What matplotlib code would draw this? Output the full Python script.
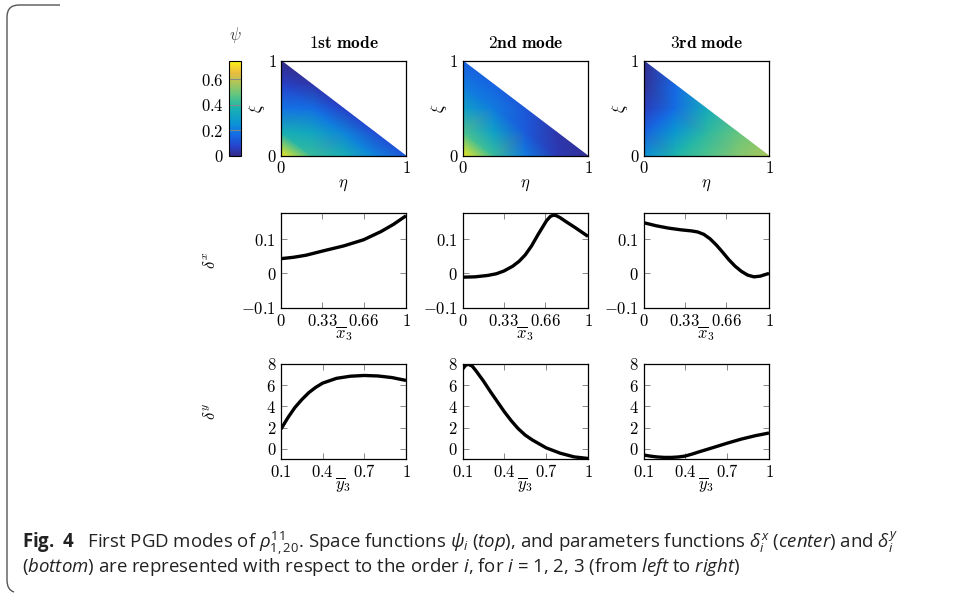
import numpy as np
import matplotlib
matplotlib.use("Agg")
import matplotlib.pyplot as plt
from matplotlib.colors import LinearSegmentedColormap
import matplotlib.tri as mtri
from matplotlib.path import Path
from matplotlib.patches import PathPatch

plt.rcParams['mathtext.fontset'] = 'cm'
plt.rcParams['font.family'] = ['DejaVu Serif']
plt.rcParams['mathtext.rm'] = 'Open Sans'
plt.rcParams['mathtext.it'] = 'Open Sans:italic'
plt.rcParams['mathtext.bf'] = 'Open Sans:bold'

# ---------------- data ----------------
mode_titles = ["1st mode", "2nd mode", "3rd mode"]

# psi values on triangular grid nodes (eta = i/4, xi = j/4), rows by xi
psi_mode1 = [[0.72, 0.42, 0.36, 0.22, 0.12],
             [0.36, 0.32, 0.22, 0.10],
             [0.18, 0.17, 0.07],
             [0.07, 0.04],
             [0.00]]
psi_mode2 = [[0.72, 0.42, 0.20, 0.05, 0.02],
             [0.45, 0.30, 0.13, 0.04],
             [0.30, 0.20, 0.12],
             [0.20, 0.15],
             [0.14]]
psi_mode3 = [[0.25, 0.38, 0.45, 0.52, 0.57],
             [0.14, 0.27, 0.40, 0.48],
             [0.06, 0.17, 0.34],
             [0.02, 0.16],
             [0.01]]
psi_modes = [psi_mode1, psi_mode2, psi_mode3]
psi_vmax = 0.745
cbar_ticks = [0, 0.2, 0.4, 0.6]

x3_1 = [0.0, 0.1, 0.2, 0.33, 0.5, 0.66, 0.8, 0.9, 1.0]
dx_1 = [0.043, 0.047, 0.053, 0.065, 0.080, 0.098, 0.122, 0.143, 0.168]
x3_2 = [0.0, 0.1, 0.2, 0.27, 0.33, 0.4, 0.45, 0.5, 0.55, 0.6, 0.64, 0.67,
        0.70, 0.725, 0.75, 0.78, 0.82, 0.9, 1.0]
dx_2 = [-0.011, -0.010, -0.006, -0.001, 0.007, 0.021, 0.035, 0.054, 0.080,
        0.112, 0.136, 0.154, 0.166, 0.170, 0.168, 0.162, 0.152, 0.133, 0.108]
x3_3 = [0.0, 0.1, 0.2, 0.3, 0.38, 0.43, 0.48, 0.53, 0.58, 0.63, 0.68, 0.73,
        0.78, 0.83, 0.88, 0.93, 1.0]
dx_3 = [0.148, 0.139, 0.132, 0.127, 0.124, 0.121, 0.114, 0.101, 0.083,
        0.062, 0.040, 0.021, 0.006, -0.005, -0.010, -0.008, 0.000]
delta_x = [(x3_1, dx_1), (x3_2, dx_2), (x3_3, dx_3)]
x_ticks = [0, 0.33, 0.66, 1]
x_ticklabels = ["$0$", "$0.33$", "$0.66$", "$1$"]
dx_ylim = (-0.1, 0.177)
dx_yticks = [-0.1, 0, 0.1]
dx_yticklabels = ["$-0.1$", "$0$", "$0.1$"]

y3_1 = [0.1, 0.15, 0.2, 0.25, 0.3, 0.35, 0.4, 0.5, 0.6, 0.7, 0.8, 0.9, 1.0]
dy_1 = [1.87, 2.95, 3.9, 4.65, 5.3, 5.8, 6.2, 6.65, 6.85, 6.92, 6.87, 6.72, 6.45]
y3_2 = [0.1, 0.12, 0.14, 0.17, 0.2, 0.25, 0.3, 0.35, 0.4, 0.45, 0.5, 0.55,
        0.6, 0.7, 0.8, 0.9, 1.0]
dy_2 = [7.5, 7.85, 7.98, 7.8, 7.3, 6.4, 5.4, 4.45, 3.5, 2.65, 1.9, 1.3,
        0.85, 0.1, -0.4, -0.75, -0.9]
y3_3 = [0.1, 0.15, 0.2, 0.25, 0.3, 0.35, 0.4, 0.45, 0.5, 0.6, 0.7, 0.8, 0.9, 1.0]
dy_3 = [-0.57, -0.68, -0.76, -0.80, -0.80, -0.76, -0.67, -0.48, -0.27,
        0.13, 0.54, 0.92, 1.24, 1.5]
delta_y = [(y3_1, dy_1), (y3_2, dy_2), (y3_3, dy_3)]
y_ticks = [0.1, 0.4, 0.7, 1]
y_ticklabels = ["$0.1$", "$0.4$", "$0.7$", "$1$"]
dy_ylim = (-0.95, 8)
dy_yticks = [0, 2, 4, 6, 8]
dy_yticklabels = ["$0$", "$2$", "$4$", "$6$", "$8$"]

# parula-like colormap
parula_stops = [(0.00, (0.2081, 0.1663, 0.5292)),
                (0.10, (0.1500, 0.2600, 0.8000)),
                (0.22, (0.0800, 0.4200, 0.9000)),
                (0.35, (0.0400, 0.5900, 0.8300)),
                (0.50, (0.1000, 0.7000, 0.6900)),
                (0.62, (0.3300, 0.7700, 0.5300)),
                (0.75, (0.6400, 0.7800, 0.3700)),
                (0.87, (0.9100, 0.7400, 0.2500)),
                (0.94, (0.9700, 0.8500, 0.1600)),
                (1.00, (0.9763, 0.9831, 0.0538))]
parula = LinearSegmentedColormap.from_list("parula", parula_stops)

# ---------------- figure ----------------
W, H = 955, 597
fig = plt.figure(figsize=(W / 100, H / 100), dpi=100)

def px_axes(x0, y0, x1, y1):
    return fig.add_axes([x0 / W, 1 - y1 / H, (x1 - x0) / W, (y1 - y0) / H])

cols = [(281, 406), (462.5, 588), (643.5, 769)]
row_y = [(60.7, 156), (212.7, 307.7), (364, 459)]
FS = 12
tick_kw = dict(direction='in', top=True, right=True, length=4, width=0.7,
               color='#888888', labelsize=FS, labelcolor='black')

# triangulation nodes
N = 4
eta_nodes, xi_nodes = [], []
for j in range(N + 1):
    for i in range(N + 1 - j):
        eta_nodes.append(i / N)
        xi_nodes.append(j / N)
tri = mtri.Triangulation(eta_nodes, xi_nodes)

for c, (x0, x1) in enumerate(cols):
    # heatmap
    ax = px_axes(x0, row_y[0][0], x1, row_y[0][1])
    vals = [v for row in psi_modes[c] for v in row]
    ax.tripcolor(tri, vals, shading='gouraud', cmap=parula, vmin=0, vmax=psi_vmax)
    ax.set_xlim(0, 1)
    ax.set_ylim(0, 1)
    ax.set_xticks([0, 1])
    ax.set_yticks([0, 1])
    ax.set_xticklabels(["$0$", "$1$"])
    ax.set_yticklabels(["$0$", "$1$"])
    ax.tick_params(length=0, labelsize=FS, pad=3)
    ax.set_xlabel(r"$\eta$", fontsize=FS, labelpad=-1)
    ax.set_ylabel(r"$\xi$", fontsize=FS, labelpad=0)
    ax.set_title(r"$\mathbf{%s}$" % mode_titles[c].replace(" ", r"\ "),
                 fontsize=12.5, pad=9)
    for s in ax.spines.values():
        s.set_linewidth(0.9)

    # delta x
    ax = px_axes(x0, row_y[1][0], x1, row_y[1][1])
    xs, ys = delta_x[c]
    ax.plot(xs, ys, color='black', lw=2.4, solid_capstyle='butt',
            solid_joinstyle='round')
    ax.set_xlim(0, 1)
    ax.set_ylim(*dx_ylim)
    ax.set_xticks(x_ticks)
    ax.set_xticklabels(x_ticklabels)
    ax.set_yticks(dx_yticks)
    ax.set_yticklabels(dx_yticklabels)
    ax.tick_params(**tick_kw)
    ax.set_xlabel(r"$\overline{x}_3$", fontsize=FS)
    ax.xaxis.set_label_coords(0.5, -0.17)
    if c == 0:
        ax.set_ylabel(r"$\delta^x$", fontsize=FS)
        ax.yaxis.set_label_coords(-0.5, 0.5)
    for s in ax.spines.values():
        s.set_linewidth(0.9)

    # delta y
    ax = px_axes(x0, row_y[2][0], x1, row_y[2][1])
    xs, ys = delta_y[c]
    ax.plot(xs, ys, color='black', lw=2.4, solid_capstyle='butt',
            solid_joinstyle='round')
    ax.set_xlim(0.1, 1)
    ax.set_ylim(*dy_ylim)
    ax.set_xticks(y_ticks)
    ax.set_xticklabels(y_ticklabels)
    ax.set_yticks(dy_yticks)
    ax.set_yticklabels(dy_yticklabels)
    ax.tick_params(**tick_kw)
    ax.set_xlabel(r"$\overline{y}_3$", fontsize=FS)
    ax.xaxis.set_label_coords(0.5, -0.17)
    if c == 0:
        ax.set_ylabel(r"$\delta^y$", fontsize=FS)
        ax.yaxis.set_label_coords(-0.5, 0.5)
    for s in ax.spines.values():
        s.set_linewidth(0.9)

# colorbar
cax = px_axes(229, 60.5, 240.5, 156)
sm = plt.cm.ScalarMappable(cmap=parula, norm=plt.Normalize(0, psi_vmax))
cb = fig.colorbar(sm, cax=cax)
cb.set_ticks(cbar_ticks)
cb.set_ticklabels(["$0$", "$0.2$", "$0.4$", "$0.6$"])
cax.yaxis.set_ticks_position('left')
cax.tick_params(direction='in', left=True, right=True, length=5.5, width=0.7,
                color='#888888', labelsize=FS, pad=4)
cb.outline.set_linewidth(0.8)
fig.text(235 / W, 1 - 35 / H, r"$\psi$", fontsize=FS, ha='center', va='center',
         color='#444444')

# caption
cap_kw = dict(fontsize=13.4, family=['Open Sans', 'DejaVu Sans'],
              math_fontfamily='custom', color='#222222', va='center', ha='left')
line1 = (r"$\mathbf{Fig.\ 4}$   First PGD modes of $\rho^{11}_{1,20}$. Space functions "
         r"$\psi_i$ ($\mathit{top}$), and parameters functions $\delta^x_i$ "
         r"($\mathit{center}$) and $\delta^y_i$")
line2 = (r"($\mathit{bottom}$) are represented with respect to the order $\mathit{i}$, "
         r"for $\mathit{i}$ = 1, 2, 3 (from $\mathit{left}$ to $\mathit{right}$)")
fig.text(22 / W, 1 - 543 / H, line1, **cap_kw)
fig.text(22 / W, 1 - 567 / H, line2, **cap_kw)

# border bracket
def fp(x, y):
    return (x / W, 1 - y / H)
verts = [fp(60, 5), fp(19, 5), fp(7, 5), fp(7, 17), fp(7, 580), fp(7, 590), fp(14, 592)]
codes = [Path.MOVETO, Path.LINETO, Path.CURVE3, Path.CURVE3, Path.LINETO,
         Path.CURVE3, Path.CURVE3]
fig.patches.append(PathPatch(Path(verts, codes), transform=fig.transFigure,
                             fill=False, edgecolor='#555555', lw=1.0))

fig.savefig("out.png", dpi=100)
